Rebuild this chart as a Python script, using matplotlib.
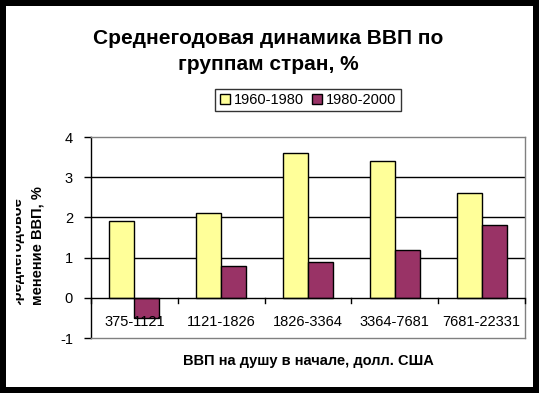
import matplotlib
matplotlib.use("Agg")
import matplotlib.pyplot as plt
import numpy as np
from matplotlib.patches import Rectangle, Patch
from matplotlib.transforms import Bbox

plt.rcParams['font.family'] = ['Liberation Sans', 'DejaVu Sans']

categories = ["375-1121", "1121-1826", "1826-3364", "3364-7681", "7681-22331"]
series_names = ["1960-1980", "1980-2000"]
values_1960_1980 = [1.9, 2.1, 3.6, 3.4, 2.6]
values_1980_2000 = [-0.5, 0.8, 0.9, 1.2, 1.8]
yticks = [-1, 0, 1, 2, 3, 4]
title = "Среднегодовая динамика ВВП по\nгруппам стран, %"
xlabel = "ВВП на душу в начале, долл. США"
ylabel_lines = ["Среднегодовое", "изменение ВВП, %"]

W, H = 539, 393
fig = plt.figure(figsize=(W / 100, H / 100), dpi=100)
fig.patch.set_facecolor("black")
fig.add_artist(Rectangle((6 / W, 6 / H), (533 - 6) / W, (387 - 6) / H,
                         transform=fig.transFigure, facecolor="white",
                         edgecolor="none", zorder=0))

ax = fig.add_axes([91 / W, (H - 338) / H, 434 / W, 201 / H])
ax.set_facecolor("none")
x = np.arange(len(categories))
bw = 0.288
ax.bar(x - bw / 2, values_1960_1980, bw, color="#FFFF99", edgecolor="black",
       linewidth=1, zorder=3)
ax.bar(x + bw / 2, values_1980_2000, bw, color="#993366", edgecolor="black",
       linewidth=1, zorder=3)

ax.set_xlim(-0.5, len(categories) - 0.5)
ax.set_ylim(-1, 4)
ax.set_yticks(yticks)
ax.set_yticklabels([str(v) for v in yticks], fontsize=10.5)
ax.tick_params(axis="y", direction="out", length=5, width=1, pad=8, colors="black")
ax.set_xticks([])

for yv in [1, 2, 3]:
    ax.axhline(yv, color="black", linewidth=1, zorder=1)
ax.axhline(0, color="black", linewidth=1, zorder=4)
for b in np.arange(len(categories) + 1) - 0.5:
    ax.plot([b, b], [0, -0.12], color="black", linewidth=1, zorder=4,
            clip_on=False)

for i, c in enumerate(categories):
    ax.text(i, -0.6, c, ha="center", va="center", fontsize=10.5, zorder=5)

for s in ["top", "right", "bottom"]:
    ax.spines[s].set_color("#808080")
    ax.spines[s].set_linewidth(1)
ax.spines["left"].set_color("black")
ax.spines["left"].set_linewidth(1)

fig.text(268 / W, (H - 51.5) / H, title, ha="center", va="center",
         fontsize=15, fontweight="bold", linespacing=1.4)
fig.text(308 / W, (H - 361) / H, xlabel, ha="center", va="center",
         fontsize=10.5, fontweight="bold")

clip = Bbox.from_extents(16, H - 305, 60, H - 150)
for xb, line in zip([21, 42], ylabel_lines):
    t = fig.text(xb / W, (H - 254) / H, line, ha="center", va="baseline",
                 rotation=90, rotation_mode="anchor", fontsize=10.5,
                 fontweight="bold")
    t.set_clip_on(True)
    t.set_clip_box(clip)

handles = [Patch(facecolor="#FFFF99", edgecolor="black", label=series_names[0]),
           Patch(facecolor="#993366", edgecolor="black", label=series_names[1])]
leg = fig.legend(handles=handles, loc="center", bbox_to_anchor=(308 / W, (H - 100) / H),
                 ncol=2, fontsize=10.5, frameon=True, fancybox=False,
                 edgecolor="black", handlelength=0.7, handleheight=0.7,
                 handletextpad=0.3, columnspacing=0.5, borderpad=0.3,
                 borderaxespad=0)
leg.get_frame().set_linewidth(1)

fig.savefig("out.png", dpi=100, facecolor=fig.get_facecolor())
